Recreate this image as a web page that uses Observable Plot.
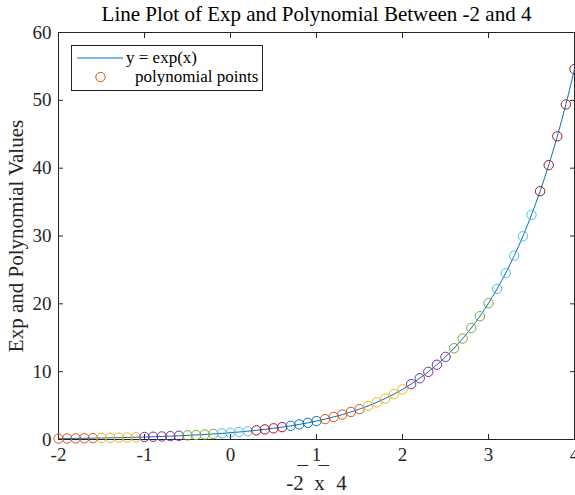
<!DOCTYPE html>
<html><head><meta charset="utf-8">
<script src="https://cdn.jsdelivr.net/npm/d3@7"></script>
<script src="https://cdn.jsdelivr.net/npm/@observablehq/plot@0.6"></script>
<style>
body{margin:0;background:#fff}
#chart svg{display:block}
</style>
</head><body><div id="chart"></div>
<script>
const titleText = "Line Plot of Exp and Polynomial Between -2 and 4";
const yLabelText = "Exp and Polynomial Values";
const xLabelText = "-2 x 4";
const xTicks = [-2, -1, 0, 1, 2, 3, 4];
const yTicks = [0, 10, 20, 30, 40, 50, 60];
const legendLabels = ["y = exp(x)", "polynomial points"];

const xValues = [-2.0,-1.9,-1.8,-1.7,-1.6,-1.5,-1.4,-1.3,-1.2,-1.1,-1.0,-0.9,-0.8,-0.7,-0.6,-0.5,-0.4,-0.3,-0.2,-0.1,
  0.0,0.1,0.2,0.3,0.4,0.5,0.6,0.7,0.8,0.9,1.0,1.1,1.2,1.3,1.4,1.5,1.6,1.7,1.8,1.9,2.0,2.1,2.2,2.3,2.4,2.5,2.6,2.7,2.8,2.9,
  3.0,3.1,3.2,3.3,3.4,3.5,3.6,3.7,3.8,3.9,4.0];
const expValues = [0.135,0.150,0.165,0.183,0.202,0.223,0.247,0.273,0.301,0.333,0.368,0.407,0.449,0.497,0.549,0.607,0.670,0.741,0.819,0.905,
  1.000,1.105,1.221,1.350,1.492,1.649,1.822,2.014,2.226,2.460,2.718,3.004,3.320,3.669,4.055,4.482,4.953,5.474,6.050,6.686,
  7.389,8.166,9.025,9.974,11.02,12.18,13.46,14.88,16.44,18.17,20.09,22.20,24.53,27.11,29.96,33.12,36.60,40.45,44.70,49.40,54.60];
const polyValues = [0.135,0.150,0.165,0.183,0.202,0.223,0.247,0.273,0.301,0.333,0.368,0.407,0.449,0.497,0.549,0.607,0.670,0.741,0.819,0.905,
  1.000,1.105,1.221,1.350,1.492,1.649,1.822,2.014,2.226,2.460,2.718,3.004,3.320,3.669,4.055,4.482,4.953,5.474,6.050,6.686,
  7.389,8.166,9.025,9.974,11.02,12.18,13.46,14.88,16.44,18.17,20.09,22.20,24.53,27.11,29.96,33.12,36.60,40.45,44.70,49.40,54.60];
const segmentIds = [0,0,0,0,0, 1,1,1,1,1, 2,2,2,2,2, 3,3,3,3, 4,4,4,4, 5,5,5,5, 6,6,6,6,
  7,7,7,7,7, 8,8,8,8,8, 9,9,9,9,9, 10,10,10,10,10, 11,11,11,11,11, 12,12,12,12,12];
const segmentDomain = [0,1,2,3,4,5,6,7,8,9,10,11,12];
const segmentColors = ["#D95319","#EDB120","#7E2F8E","#77AC30","#4DBEEE","#A2142F","#0072BD",
  "#D95319","#EDB120","#7E2F8E","#77AC30","#4DBEEE","#A2142F"];
const lineColor = "#0072BD";
const axisColor = "#262626";
const fontFamily = "'Liberation Serif', 'Times New Roman', serif";

const lineData = xValues.map((x, i) => ({x, y: expValues[i]}));
const pointData = xValues.map((x, i) => ({x, y: polyValues[i], seg: segmentIds[i]}));
const fmt = d => String(d);

const chart = Plot.plot({
  width: 575, height: 495,
  marginLeft: 58, marginRight: 1, marginTop: 32, marginBottom: 56,
  style: {fontFamily, background: "#fff", color: axisColor},
  x: {domain: [-2, 4]},
  y: {domain: [0, 60]},
  color: {type: "ordinal", domain: segmentDomain, range: segmentColors},
  marks: [
    Plot.frame({stroke: axisColor, strokeWidth: 1}),
    Plot.axisX({anchor: "bottom", ticks: xTicks, tickSize: -5, tickPadding: 13, fontSize: 19, tickFormat: fmt, label: null, stroke: axisColor}),
    Plot.axisX({anchor: "top", ticks: xTicks, tickSize: -5, tickFormat: () => "", label: null, stroke: axisColor}),
    Plot.axisY({anchor: "left", ticks: yTicks, tickSize: -5, tickPadding: 12, fontSize: 19, tickFormat: fmt, label: null, stroke: axisColor}),
    Plot.axisY({anchor: "right", ticks: yTicks, tickSize: -5, tickFormat: () => "", label: null, stroke: axisColor}),
    Plot.line(lineData, {x: "x", y: "y", stroke: lineColor, strokeWidth: 1, curve: "catmull-rom"}),
    Plot.dot(pointData, {x: "x", y: "y", stroke: "seg", fill: "none", r: 4.7, strokeWidth: 1}),
    Plot.text([titleText], {frameAnchor: "top", dy: -18, fontSize: 21, lineAnchor: "middle", textAnchor: "middle", fill: "#000"}),
    Plot.text([yLabelText], {frameAnchor: "left", dx: -42, rotate: -90, fontSize: 21, lineAnchor: "middle", textAnchor: "middle", fill: axisColor}),
    Plot.text([xLabelText], {frameAnchor: "bottom", dy: 44, fontSize: 21, lineAnchor: "middle", textAnchor: "middle", fill: axisColor})
  ]
});
document.getElementById("chart").appendChild(chart);

const svg = d3.select(chart);

// x label with raised bars (as rendered in the reference)
svg.selectAll("text").filter(function() { return this.textContent === xLabelText; }).each(function() {
  const xl = d3.select(this);
  xl.text(null);
  xl.append("tspan").text("-2");
  xl.append("tspan").attr("dx", "-0.3em").attr("dy", "-0.42em").text("\u00AF");
  xl.append("tspan").attr("dx", "0.05em").attr("dy", "0.42em").text(" x");
  xl.append("tspan").attr("dx", "-0.3em").attr("dy", "-0.42em").text("\u00AF");
  xl.append("tspan").attr("dx", "0.1em").attr("dy", "0.42em").text(" 4");
});

// legend
const lg = svg.append("g").attr("font-family", fontFamily).attr("font-size", 17).attr("text-anchor", "start");
lg.append("rect").attr("x", 71.5).attr("y", 45.5).attr("width", 191).attr("height", 45)
  .attr("fill", "#fff").attr("stroke", axisColor).attr("stroke-width", 1);
lg.append("line").attr("x1", 77).attr("x2", 123).attr("y1", 58).attr("y2", 58)
  .attr("stroke", lineColor).attr("stroke-width", 1);
lg.append("text").attr("x", 126).attr("y", 63).attr("fill", "#000").attr("text-anchor", "start").text(legendLabels[0]);
lg.append("circle").attr("cx", 100.5).attr("cy", 77).attr("r", 4.7)
  .attr("fill", "none").attr("stroke", segmentColors[0]).attr("stroke-width", 1);
lg.append("text").attr("x", 135).attr("y", 82).attr("fill", "#000").attr("text-anchor", "start").text(legendLabels[1]);
</script>
</body></html>
